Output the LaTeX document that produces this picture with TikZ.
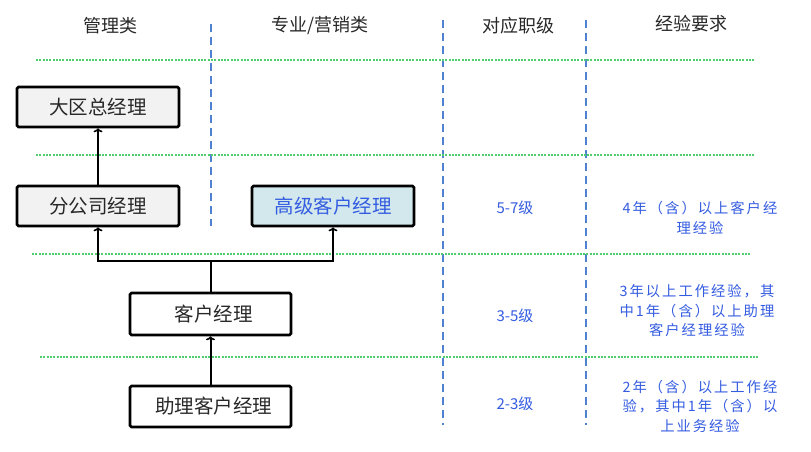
\documentclass[tikz,border=0pt]{standalone}
\usepackage{fontspec}
\setmainfont{Noto Sans CJK SC}
\usetikzlibrary{arrows.meta}
\definecolor{bluetxt}{RGB}{52,92,225}
\definecolor{dashblue}{RGB}{80,130,210}
\definecolor{dotgreen}{RGB}{80,205,110}
\definecolor{boxgray}{RGB}{242,242,242}
\definecolor{boxblue}{RGB}{210,232,236}
\definecolor{txtgray}{RGB}{40,40,40}
\tikzset{
  box/.style={draw=black, line width=2.6pt, rounded corners=1.5pt, fill=boxgray,
    minimum width=162pt, minimum height=40pt, inner sep=0pt,
    font=\fontsize{19.5pt}{21pt}\selectfont, text=txtgray},
  bluebox/.style={box, fill=boxblue, text=bluetxt},
  hdr/.style={font=\fontsize{18pt}{20pt}\selectfont, text=txtgray, inner sep=0pt},
  info/.style={font=\addfontfeature{LetterSpace=14}\fontsize{14.3pt}{19.5pt}\selectfont, text=bluetxt, align=center, inner sep=0pt},
  lvl/.style={font=\fontsize{15pt}{19pt}\selectfont, text=bluetxt, inner sep=0pt},
  arr/.style={line width=2pt, -{To[length=4pt,width=9pt,line width=1.6pt]}},
  conn/.style={line width=2pt},
  vdash/.style={draw=dashblue, line width=2pt, dash pattern=on 8pt off 5pt},
  gdot/.style={draw=dotgreen, line width=2pt, dash pattern=on 2pt off 1.3pt},
}
\begin{document}
\begin{tikzpicture}[x=1pt,y=-1pt]
\useasboundingbox[fill=white] (0,0) rectangle (811,451);
% headers
\node[hdr] (h1) at (110,26) {管理类};
\node[hdr] (h2) at (320,26) {专业/营销类};
\node[hdr] (h3) at (518,26) {对应职级};
\node[hdr] (h4) at (691,24) {经验要求};
% column separators
\draw[vdash] (211,24) -- (211,226);
\draw[vdash] (443,20) -- (443,425);
\draw[vdash] (586,20) -- (586,425);
% row separators
\draw[gdot] (36,60) -- (755,60);
\draw[gdot] (36,155) -- (755,155);
\draw[gdot] (32,254) -- (750,254);
\draw[gdot] (40,357) -- (758,357);
% boxes
\node[box] (dq) at (98,107) {大区总经理};
\node[box] (fgs) at (98,206) {分公司经理};
\node[bluebox] (gj) at (333,206) {高级客户经理};
\node[box, minimum width=161pt, minimum height=42pt, fill=white] (kh) at (210.5,314) {\hspace{6pt}客户经理};
\node[box, minimum width=161pt, minimum height=41pt, fill=white] (zl) at (210.5,406.5) {\hspace{6pt}助理客户经理};
% connectors
\coordinate (j) at (210.5,261);
\draw[arr] (fgs.north) -- (dq.south);
\draw[conn] (kh.north) -- (kh.north |- j);
\draw[arr] (kh.north |- j) -| (fgs.south);
\draw[arr] (kh.north |- j) -| (gj.south);
\draw[arr] (zl.north) -- (kh.south);
% levels
\node[lvl] (l1) at (515,208) {5-7级};
\node[lvl] (l2) at (515,316) {3-5级};
\node[lvl] (l3) at (515,404) {2-3级};
% experience
\node[info] (e1) at (700,218) {4年（含）以上客户经\\理经验};
\node[info] (e2) at (697,311) {3年以上工作经验，其\\中1年（含）以上助理\\客户经理经验};
\node[info] (e3) at (700,406) {2年（含）以上工作经\\验，其中1年（含）以\\上业务经验};
\end{tikzpicture}
\end{document}
